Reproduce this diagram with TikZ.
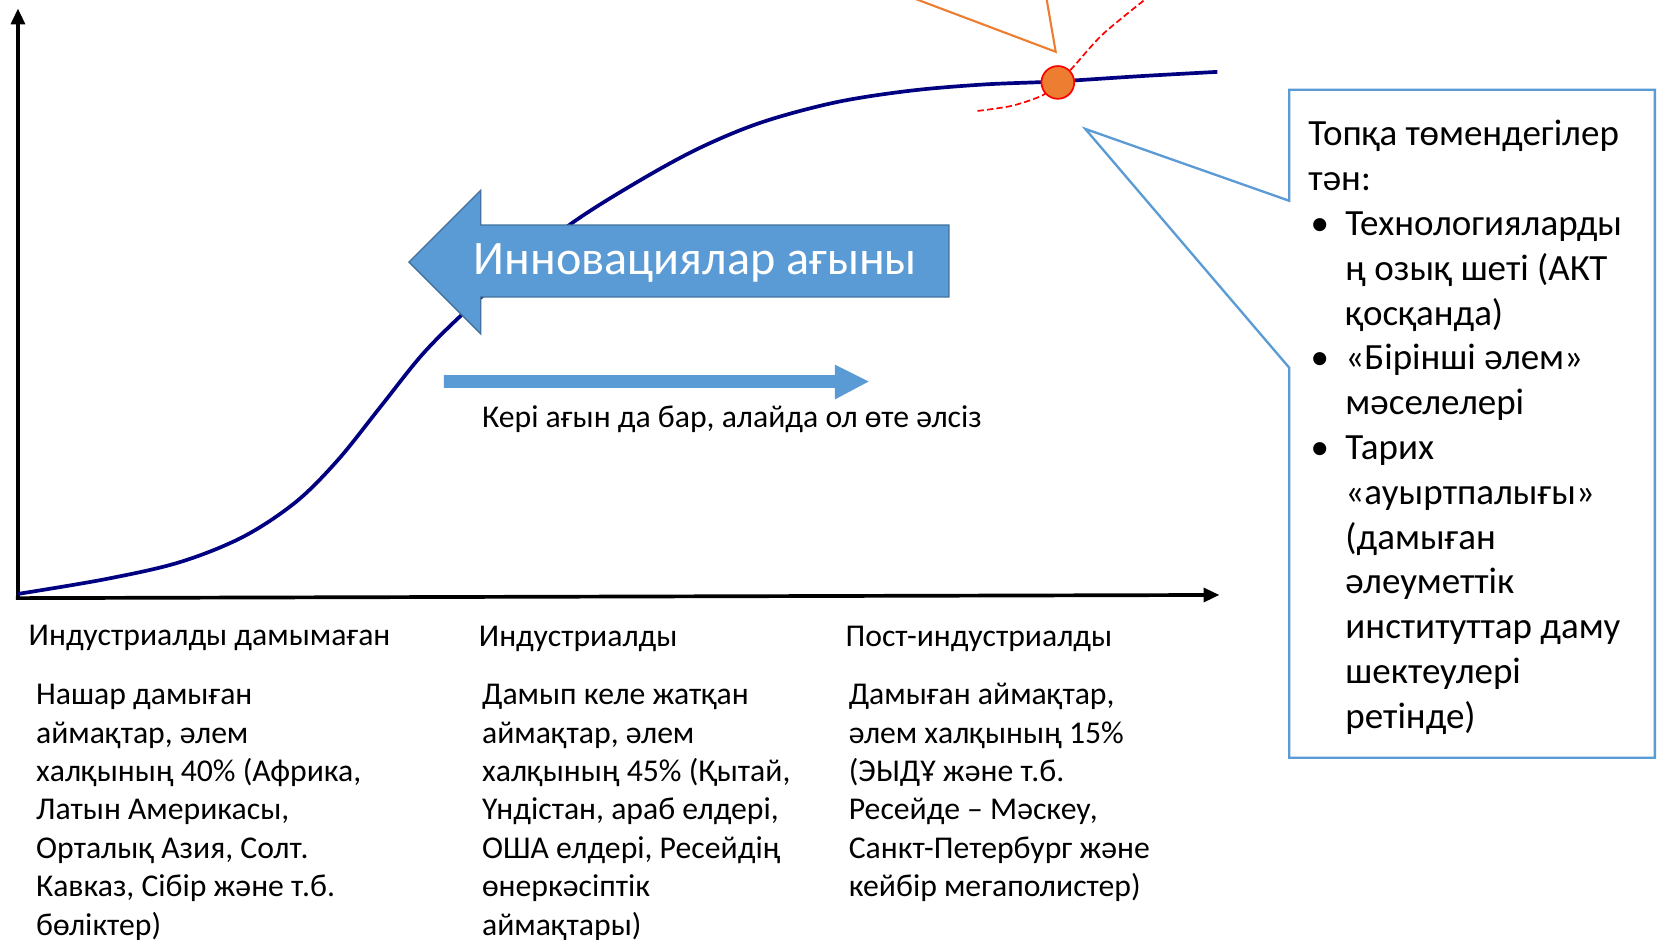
\documentclass[tikz,border=0pt]{standalone}
\usepackage{fontspec}
\setmainfont{Carlito}
\usetikzlibrary{arrows.meta}
\definecolor{navyc}{HTML}{000080}
\definecolor{accblue}{HTML}{5B9BD5}
\definecolor{accblueD}{HTML}{41719C}
\definecolor{accorange}{HTML}{ED7D31}
\tikzset{
  axisline/.style={line width=3.5pt,-{Triangle[length=15pt,width=13pt]}},
  body/.style={font=\fontsize{30}{36.3}\selectfont, anchor=base west, inner sep=0pt, align=left},
  calltxt/.style={font=\fontsize{35}{42.4}\selectfont, anchor=base west, inner sep=0pt, align=left},
}
\begin{document}
\begin{tikzpicture}[x=1pt,y=-1pt]
\useasboundingbox (0,0) rectangle (1568,889);
\clip (0,0) rectangle (1568,889);
\fill[white] (0,0) rectangle (1568,889);
% axes
\coordinate (yb) at (17,568);
\coordinate (yt) at (17,8);
\coordinate (xl) at (15,566);
\coordinate (xr) at (1154,563);
\draw[axisline] (yb) -- (yt);
\draw[axisline] (xl) -- (xr);
% S-curve
\draw[navyc, line width=3.5pt] plot[smooth, tension=0.55] coordinates {(17,562) (100,548) (170,532) (230,508) (280,475) (320,435) (360,385) (400,335) (440,295) (480,260) (540,212) (600,174) (660,141) (720,116) (790,97) (860,86) (930,80) (1001,77) (1080,72) (1152,68)};
% red dashed curve
\draw[red, line width=1.6pt, dash pattern=on 6pt off 3pt] plot[smooth] coordinates {(925,105) (958,100) (987,90) (1001,78) (1015,64) (1044,32) (1088,-4)};
% orange callout edges
\coordinate (o1) at (861,-3);
\coordinate (o2) at (999,49);
\coordinate (o3) at (990,-3);
\draw[accorange, line width=2pt] (o1) -- (o2) -- (o3);
% point
\node[circle, fill=accorange, draw=red, line width=1.6pt, minimum size=31pt, inner sep=0pt] (pt) at (1001,78) {};
% big arrow
\draw[fill=accblue, draw=accblueD, line width=1.2pt] (387,248) -- (455,180) -- (455,213) -- (898,213) -- (898,281) -- (455,281) -- (455,316) -- cycle;
\node[text=white, font=\fontsize{45.5}{50}\selectfont, inner sep=0pt] (innov) at (658,249) {Инновациялар ағыны};
% thin arrow
\fill[accblue] (420,355) -- (790,355) -- (790,345) -- (822,361) -- (790,378) -- (790,367) -- (420,367) -- cycle;
\node[font=\fontsize{30}{36}\selectfont, anchor=base west, inner sep=0pt] (back) at (456,405) {Кері ағын да бар, алайда ол өте әлсіз};
% callout box
\draw[accblue, line width=2.2pt, fill=white] (1220,85) -- (1566,85) -- (1566,717) -- (1220,717) -- (1220,348) -- (1027,122) -- (1220,190) -- cycle;
% (anchor base = baseline of the LAST line of each block)
\node[calltxt] (ch) at (1238,180.4) {Топқа төмендегілер\\тән:};
\node[calltxt] (b1) at (1240,222.8) {•};
\node[calltxt] (i1) at (1273,307.6) {Технологияларды\\ң озық шеті (АКТ\\қосқанда)};
\node[calltxt] (b2) at (1240,350) {•};
\node[calltxt] (i2) at (1273,392.4) {«Бірінші әлем»\\мәселелері};
\node[calltxt] (b3) at (1240,434.8) {•};
\node[calltxt] (i3) at (1273,689.2) {Тарих\\«ауыртпалығы»\\(дамыған\\әлеуметтік\\институттар даму\\шектеулері\\ретінде)};
% bottom labels
\node[body] (h1) at (27,611) {Индустриалды дамымаған};
\node[body] (h2) at (453,612) {Индустриалды};
\node[body] (h3) at (800,612) {Пост-индустриалды};
\node[body] (c1) at (34,884.8) {Нашар дамыған\\аймақтар, әлем\\халқының 40\% (Африка,\\Латын Америкасы,\\Орталық Азия, Солт.\\Кавказ, Сібір және т.б.\\бөліктер)};
\node[body] (c2) at (456,884.8) {Дамып келе жатқан\\аймақтар, әлем\\халқының 45\% (Қытай,\\Үндістан, араб елдері,\\ОША елдері, Ресейдің\\өнеркәсіптік\\аймақтары)};
\node[body] (c3) at (803,848.5) {Дамыған аймақтар,\\әлем халқының 15\%\\(ЭЫДҰ және т.б.\\Ресейде – Мәскеу,\\Санкт-Петербург және\\кейбір мегаполистер)};
\end{tikzpicture}
\end{document}
